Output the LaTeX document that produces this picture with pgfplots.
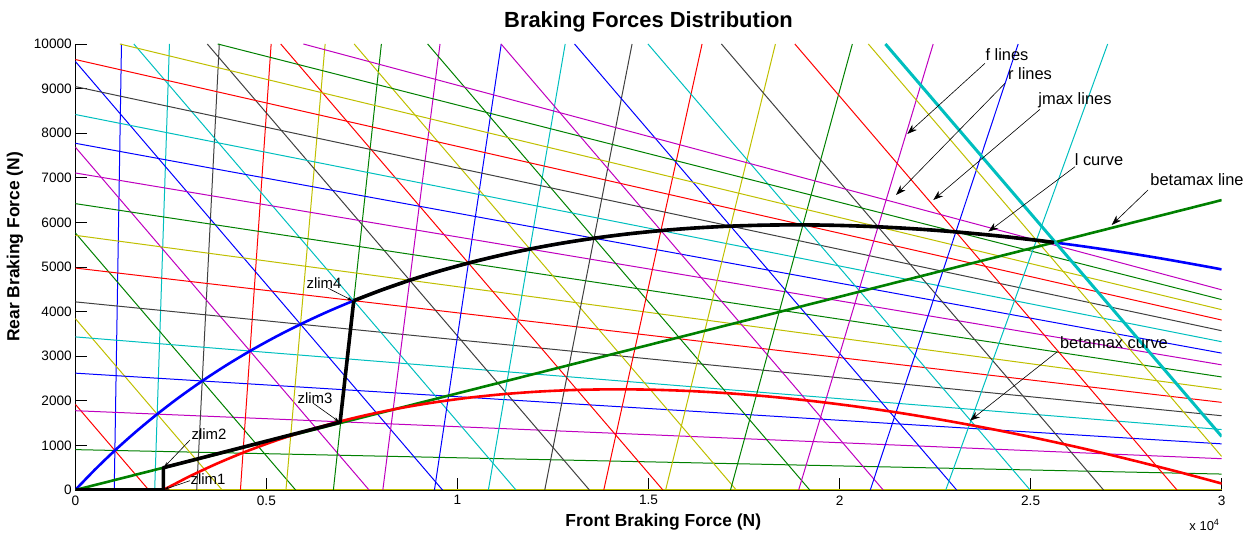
\documentclass[border=0pt]{standalone}
\usepackage{fontspec}
\setmainfont{Liberation Sans}
\usepackage{pgfplots}
\pgfplotsset{compat=1.18}
\usetikzlibrary{arrows.meta}
\definecolor{mb}{rgb}{0,0,1}
\definecolor{mg}{rgb}{0,0.5,0}
\definecolor{mr}{rgb}{1,0,0}
\definecolor{mc}{rgb}{0,0.75,0.75}
\definecolor{mm}{rgb}{0.75,0,0.75}
\definecolor{my}{rgb}{0.75,0.75,0}
\definecolor{mk}{rgb}{0.25,0.25,0.25}
\begin{document}
\begin{tikzpicture}[x=1bp,y=1bp]
\path[use as bounding box] (-75.3,-45) rectangle (1180.7,490);
\begin{axis}[
  at={(0,0)}, anchor=south west,
  scale only axis, width=1146.4bp, height=446bp,
  xmin=0, xmax=30000, ymin=0, ymax=10000,
  axis x line=bottom, axis y line=left,
  axis line style={-, black, line width=0.8bp},
  xtick={0,5000,10000,15000,20000,25000,30000},
  xticklabels={0,0.5,1,1.5,2,2.5,3},
  ytick={0,1000,2000,3000,4000,5000,6000,7000,8000,9000,10000},
  yticklabels={0,1000,2000,3000,4000,5000,6000,7000,8000,9000,10000},
  scaled ticks=false,
  tick align=inside, major tick length=12bp,
  tick style={black, line width=0.8bp},
  ticklabel style={font=\fontsize{13.7}{15}\selectfont},
  xticklabel style={yshift=-2bp},
  every axis plot/.append style={line width=1bp},
]
% y=0 line
\addplot[my] coordinates {(0,0) (30000,0)};
% i = 1
\addplot[mb] coordinates {(1018.9,0) (1208.5,10000)};
\addplot[mg] coordinates {(0,905.2) (30000,357.3)};
\addplot[mr] coordinates {(0,1922) (1922,0)};
% i = 2
\addplot[mc] coordinates {(2077.3,0) (2463.6,10000)};
\addplot[mm] coordinates {(0,1777.9) (30000,701.9)};
\addplot[my] coordinates {(0,3844) (3844,0)};
% i = 3
\addplot[mk] coordinates {(3177.3,0) (3768.3,10000)};
\addplot[mb] coordinates {(0,2619.8) (30000,1034.3)};
\addplot[mg] coordinates {(0,5766) (5766,0)};
% i = 4
\addplot[mr] coordinates {(4321.5,0) (5125.3,10000)};
\addplot[mc] coordinates {(0,3432.6) (30000,1355.2)};
\addplot[mm] coordinates {(0,7688) (7688,0)};
% i = 5
\addplot[my] coordinates {(5512.7,0) (6538.0,10000)};
\addplot[mk] coordinates {(0,4217.7) (30000,1665.1)};
\addplot[mb] coordinates {(0,9610) (9610,0)};
% i = 6
\addplot[mg] coordinates {(6753.7,0) (8009.9,10000)};
\addplot[mr] coordinates {(0,4976.6) (30000,1964.7)};
\addplot[mc] coordinates {(1532,10000) (11532,0)};
% i = 7
\addplot[mm] coordinates {(8047.8,0) (9544.7,10000)};
\addplot[my] coordinates {(0,5710.5) (30000,2254.5)};
\addplot[mk] coordinates {(3454,10000) (13454,0)};
% i = 8
\addplot[mb] coordinates {(9398.5,0) (11146.6,10000)};
\addplot[mg] coordinates {(0,6420.6) (30000,2534.8)};
\addplot[mr] coordinates {(5376,10000) (15376,0)};
% i = 9
\addplot[mc] coordinates {(10809.5,0) (12820.1,10000)};
\addplot[mm] coordinates {(0,7108.1) (30000,2806.2)};
\addplot[my] coordinates {(7298,10000) (17298,0)};
% i = 10
\addplot[mk] coordinates {(12285.0,0) (14570.0,10000)};
\addplot[mb] coordinates {(0,7774.0) (30000,3069.1)};
\addplot[mg] coordinates {(9220,10000) (19220,0)};
% i = 11
\addplot[mr] coordinates {(13829.5,0) (16401.8,10000)};
\addplot[mc] coordinates {(0,8419.4) (30000,3324.0)};
\addplot[mm] coordinates {(11142,10000) (21142,0)};
% i = 12
\addplot[my] coordinates {(15448.0,0) (18321.3,10000)};
\addplot[mk] coordinates {(0,9045.1) (30000,3570.9)};
\addplot[mb] coordinates {(13064,10000) (23064,0)};
% i = 13
\addplot[mg] coordinates {(17145.9,0) (20335.0,10000)};
\addplot[mr] coordinates {(0,9652.1) (30000,3810.6)};
\addplot[mc] coordinates {(14986,10000) (24986,0)};
% i = 14
\addplot[mm] coordinates {(18929.2,0) (22450.0,10000)};
\addplot[my] coordinates {(1167.4,10000) (30000,4043.2)};
\addplot[mk] coordinates {(16908,10000) (26908,0)};
% i = 15
\addplot[mb] coordinates {(20804.4,0) (24674.0,10000)};
\addplot[mg] coordinates {(3727.4,10000) (30000,4269.0)};
\addplot[mr] coordinates {(18830,10000) (28830,0)};
% i = 16
\addplot[mc] coordinates {(22779.0,0) (27016.0,10000)};
\addplot[mm] coordinates {(5967.7,10000) (30000,4488.3)};
\addplot[my] coordinates {(20752,10000) (30000,752)};
% I curve
\addplot[mb, line width=2.6bp, smooth] coordinates {
(0,0) (508.94,452.06) (1035.75,886.25) (1580.44,1302.56) (2143,1701)
(2723.44,2081.56) (3321.75,2444.25) (3937.94,2789.06) (4572,3116)
(5223.94,3425.06) (5893.75,3716.25) (6581.44,3989.56) (7287,4245)
(8010.44,4482.56) (8751.75,4702.25) (9510.94,4904.06) (10288,5088)
(11082.94,5254.06) (11895.75,5402.25) (12726.44,5532.56) (13575,5645)
(14441.44,5739.56) (15325.75,5816.25) (16227.94,5875.06) (17148,5916)
(18085.94,5939.06) (19041.75,5944.25) (20015.44,5931.56) (21007,5901)
(22016.44,5852.56) (23043.75,5786.25) (24088.94,5702.06) (25152,5600)
(26232.94,5480.06) (27331.75,5342.25) (28448.44,5186.56) (29583,5013)
(29995.8,4946.2)};
% betamax line
\addplot[mg, line width=2.6bp] coordinates {(0,0) (30000,6500)};
% betamax curve
\addplot[mr, line width=2.6bp, smooth] coordinates {
(2303,0) (2995.3,307.7) (3710.1,592.9) (4447.4,855.6) (5207.3,1095.7)
(5989.7,1313.3) (6794.7,1508.3) (7622.2,1680.8) (8472.3,1830.7)
(9344.9,1958.1) (10240,2063) (11157.7,2145.3) (12097.9,2205.1)
(13060.6,2242.4) (14045.9,2257.1) (15053.7,2249.3) (16084.1,2218.9)
(17137,2166.0) (18212.5,2090.5) (19310.5,1992.5) (20431,1872)
(21574.1,1728.9) (22739.7,1563.3) (23927.8,1375.2) (25138.5,1164.5)
(26371.7,931.3) (27627.5,675.5) (28905.8,397.2) (30000,145)};
% jmax thick line
\addplot[mc, line width=3bp] coordinates {(21200,10000) (30000,1200)};
% black operating path
\addplot[black, line width=3.6bp, line join=round] coordinates {
(0,0) (2306,0) (2306,500) (6930,1520) (7287,4245)};
\addplot[black, line width=3.6bp, line join=round, smooth] coordinates {
(7287,4245) (8010.44,4482.56) (8751.75,4702.25) (9510.94,4904.06) (10288,5088)
(11082.94,5254.06) (11895.75,5402.25) (12726.44,5532.56) (13575,5645)
(14441.44,5739.56) (15325.75,5816.25) (16227.94,5875.06) (17148,5916)
(18085.94,5939.06) (19041.75,5944.25) (20015.44,5931.56) (21007,5901)
(22016.44,5852.56) (23043.75,5786.25) (24088.94,5702.06) (25152,5600)
(25614.6,5550.6)};
\end{axis}
% titles and labels
\node[font=\bfseries\fontsize{22}{24}\selectfont] at (573.2,468) {Braking Forces Distribution};
\node[font=\bfseries\fontsize{17.5}{20}\selectfont] at (588,-32.5) {Front Braking Force (N)};
\node[font=\bfseries\fontsize{17.5}{20}\selectfont, rotate=90] at (-60.3,243) {Rear Braking Force (N)};
\node[font=\fontsize{13}{14}\selectfont, inner sep=0] at (1129.2,-35) {x 10\textsuperscript{4}};
% annotations
\tikzset{ann/.style={font=\fontsize{16.5}{18}\selectfont, inner sep=0},
         zl/.style={font=\fontsize{15}{16}\selectfont, inner sep=0},
         arr/.style={-{Stealth[length=10bp,width=7bp]}, line width=0.6bp, black},
         sarr/.style={-{Stealth[length=5bp,width=3.5bp]}, line width=0.6bp, black}}
\node[ann] at (931.7,435) {f lines};
\draw[arr] (909.7,426.7) -- (832,356);
\node[ann] at (954.7,416.5) {r lines};
\draw[arr] (929.7,406.7) -- (820.7,295);
\node[ann] at (999.7,390) {jmax lines};
\draw[arr] (964.7,380.7) -- (858,290);
\node[ann] at (1023.7,330.5) {l curve};
\draw[arr] (999.7,323.3) -- (913,258.3);
\node[ann] at (1121.7,310) {betamax line};
\draw[arr] (1072.7,300) -- (1036.4,265);
\node[ann] at (1038.7,147.5) {betamax curve};
\draw[arr] (982,138.3) -- (894.7,69.3);
\node[zl] at (248.7,207) {zlim4};
\draw[sarr] (253,201.7) -- (277,189.5);
\node[zl] at (239.7,92) {zlim3};
\draw[sarr] (238,86.7) -- (263.5,68.5);
\node[zl] at (133.7,56) {zlim2};
\draw[sarr] (114.7,50) -- (89,23);
\node[zl] at (132.7,11) {zlim1};
\draw[sarr] (114.7,9.3) -- (89,0.5);
\end{tikzpicture}
\end{document}
